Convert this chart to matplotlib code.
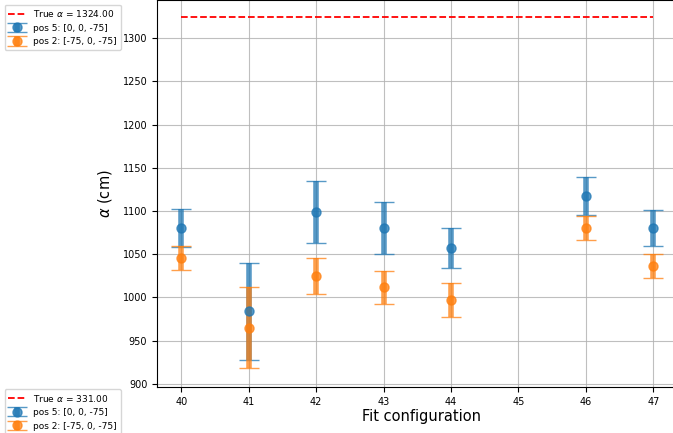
import matplotlib
matplotlib.use('Agg')
import matplotlib.pyplot as plt
import matplotlib.lines as mlines

# fit configurations on x axis
configs = [40, 41, 42, 43, 44, 46, 47]

# pos 5: [0, 0, -75]
alpha_pos5 = [1080, 984, 1099, 1080, 1057, 1117, 1080]
err_pos5 = [22, 56, 36, 30, 23, 22, 21]

# pos 2: [-75, 0, -75]
alpha_pos2 = [1046, 965, 1025, 1012, 997, 1080, 1036]
err_pos2 = [14, 47, 21, 19, 20, 14, 14]

true_alpha = 1324.0
true_alpha_lower = 331.0

fig = plt.figure(figsize=(6.73, 4.33), dpi=100)
ax = fig.add_axes([157 / 673, 46 / 433, 530 / 673, 387 / 433])

ax.hlines(true_alpha, configs[0], configs[-1], colors='r', linestyles='--',
          linewidth=1.3, label=r'True $\alpha$ = %.2f' % true_alpha)
ax.errorbar(configs, alpha_pos5, yerr=err_pos5, fmt='o', color='C0', alpha=0.75,
            elinewidth=4, capsize=7.5, capthick=1, markersize=6.5,
            label='pos 5: [0, 0, -75]')
ax.errorbar(configs, alpha_pos2, yerr=err_pos2, fmt='o', color='C1', alpha=0.75,
            elinewidth=4, capsize=7.5, capthick=1, markersize=6.5,
            label='pos 2: [-75, 0, -75]')

ax.set_xlim(39.64, 47.5)
ax.set_ylim(896.5, 1344)
ax.set_xticks(range(40, 48))
ax.set_yticks(range(900, 1301, 50))
ax.tick_params(labelsize=7)
ax.set_xlabel('Fit configuration', fontsize=10.5, labelpad=2)
ax.set_ylabel(r'$\alpha$ (cm)', fontsize=10.5, labelpad=6)
ax.grid(True, color='#b0b0b0', alpha=0.8, linewidth=0.8)

h, l = ax.get_legend_handles_labels()
fig.legend(h, l, loc='upper left', bbox_to_anchor=(0.0, 1.0), fontsize=6.5,
           framealpha=0.8)

# legend of the lower panel (only its legend is in view)
h2 = [mlines.Line2D([], [], color='r', linestyle='--', linewidth=1.3)] + h[1:]
l2 = [r'True $\alpha$ = %.2f' % true_alpha_lower] + l[1:]
fig.legend(h2, l2, loc='upper left', bbox_to_anchor=(0.0, 0.112), fontsize=6.5,
           framealpha=0.8)

plt.savefig('out.png', dpi=100)
plt.close()
